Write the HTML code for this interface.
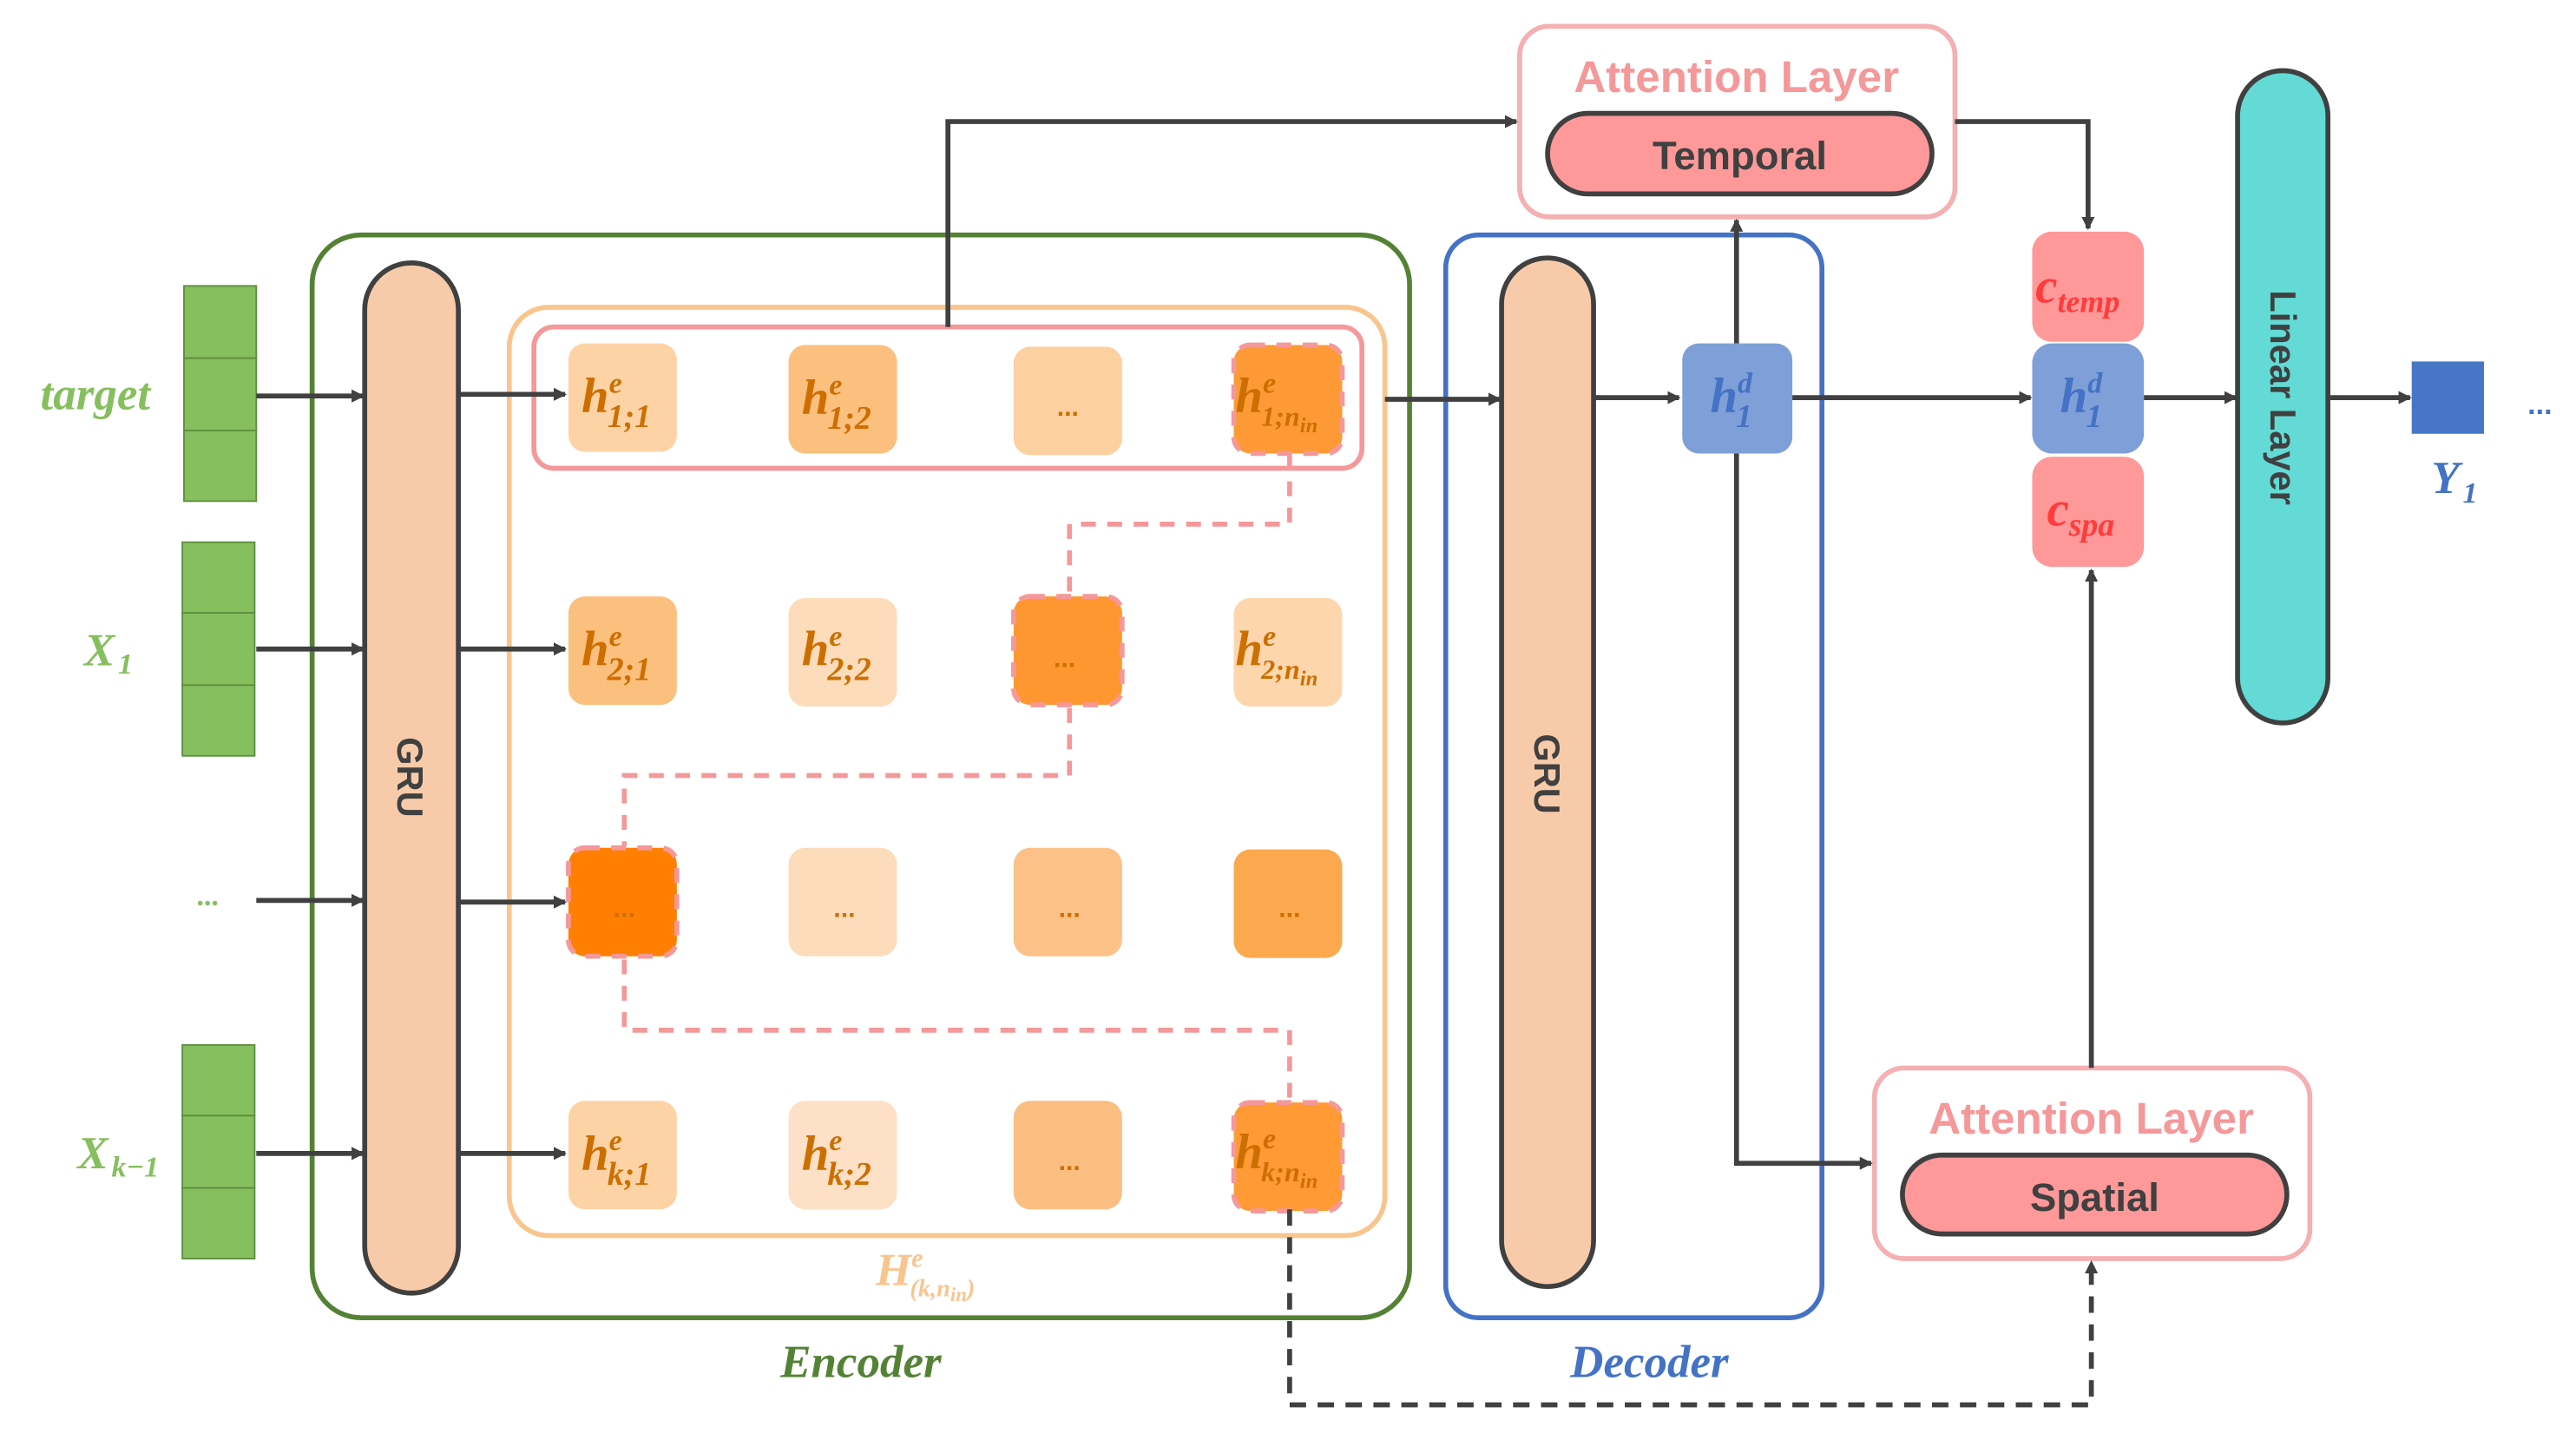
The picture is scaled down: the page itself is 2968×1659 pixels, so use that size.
<!DOCTYPE html>
<html><head><meta charset="utf-8"><style>
html,body{margin:0;padding:0;background:#fff}
svg{display:block}
.m{font-family:"Liberation Serif",serif;font-style:italic;font-weight:bold}
.s{font-family:"Liberation Sans","DejaVu Sans",sans-serif;font-weight:bold}
</style></head><body>
<svg width="2968" height="1659" viewBox="0 0 1568 876.4" preserveAspectRatio="none" xmlns="http://www.w3.org/2000/svg">
<defs>
<marker id="a" markerWidth="8" markerHeight="8" refX="7" refY="4" orient="auto" markerUnits="userSpaceOnUse"><path d="M0,0 L8,4 L0,8 z" fill="#404040"/></marker>
</defs>
<g fill="#86bf5e" stroke="#5e8f3e" stroke-width="1">
<rect x="112" y="174" width="44" height="44"/><rect x="112" y="218" width="44" height="44"/><rect x="112" y="262" width="44" height="43"/>
<rect x="111" y="330" width="44" height="43"/><rect x="111" y="373" width="44" height="44"/><rect x="111" y="417" width="44" height="43"/>
<rect x="111" y="636" width="44" height="43"/><rect x="111" y="679" width="44" height="44"/><rect x="111" y="723" width="44" height="43"/>
</g>
<g class="m" fill="#86bf5e" font-size="28" text-anchor="middle">
<text x="58" y="249">target</text>
<text x="66" y="405">X<tspan font-size="18" dx="2" dy="5">1</tspan></text>
<text x="72" y="711">X<tspan font-size="18" dx="2" dy="5">k−1</tspan></text>
<text x="127" y="551" font-size="18">...</text>
</g>
<!-- encoder -->
<rect x="190" y="143" width="668" height="659" rx="30" fill="none" stroke="#548235" stroke-width="3"/>
<rect x="222" y="160" width="57" height="627" rx="28.5" fill="#f7cbaa" stroke="#404040" stroke-width="3"/>
<text class="s" x="0" y="0" font-size="22" fill="#404040" text-anchor="middle" transform="translate(242,473) rotate(90)">GRU</text>
<rect x="310" y="187" width="533" height="565" rx="24" fill="none" stroke="#f9c58f" stroke-width="3"/>
<rect x="325" y="199" width="504" height="86" rx="12" fill="none" stroke="#f4989a" stroke-width="3"/>
<g>
<rect x="346" y="209" width="66" height="66" rx="10" fill="#fdd3a6"/>
<rect x="480" y="210" width="66" height="66" rx="10" fill="#fbbf7e"/>
<rect x="617" y="211" width="66" height="66" rx="10" fill="#fdd0a0"/>
<rect x="751" y="210" width="66" height="66" rx="10" fill="#fd9a35" stroke="#f4989a" stroke-width="3" stroke-dasharray="9 7"/>
<rect x="346" y="363" width="66" height="66" rx="10" fill="#fbbf7e"/>
<rect x="480" y="364" width="66" height="66" rx="10" fill="#fddcbb"/>
<rect x="617" y="363" width="66" height="66" rx="10" fill="#ff9730" stroke="#f4989a" stroke-width="3" stroke-dasharray="9 7"/>
<rect x="751" y="364" width="66" height="66" rx="10" fill="#fdd6ad"/>
<rect x="346" y="516" width="66" height="66" rx="10" fill="#ff8000" stroke="#f4989a" stroke-width="3" stroke-dasharray="9 7"/>
<rect x="480" y="516" width="66" height="66" rx="10" fill="#fddcbb"/>
<rect x="617" y="516" width="66" height="66" rx="10" fill="#fbc187"/>
<rect x="751" y="517" width="66" height="66" rx="10" fill="#fba84e"/>
<rect x="346" y="670" width="66" height="66" rx="10" fill="#fdd3a6"/>
<rect x="480" y="670" width="66" height="66" rx="10" fill="#fde0c6"/>
<rect x="617" y="670" width="66" height="66" rx="10" fill="#fbbe82"/>
<rect x="751" y="671" width="66" height="66" rx="10" fill="#ff9a35" stroke="#f4989a" stroke-width="3" stroke-dasharray="9 7"/>
</g>
<g class="m" fill="#cc6f00" font-size="30">
<text x="354" y="251">h<tspan font-size="18" dx="0" dy="-12">e</tspan><tspan font-size="20" dx="-9" dy="21">1;1</tspan></text>
<text x="488" y="252">h<tspan font-size="18" dx="0" dy="-12">e</tspan><tspan font-size="20" dx="-9" dy="21">1;2</tspan></text>
<text x="752" y="251">h<tspan font-size="18" dx="0" dy="-12">e</tspan><tspan font-size="17" dx="-9" dy="20">1;n<tspan font-size="13" dy="4">in</tspan></tspan></text>
<text x="354" y="405">h<tspan font-size="18" dx="0" dy="-12">e</tspan><tspan font-size="20" dx="-9" dy="21">2;1</tspan></text>
<text x="488" y="405">h<tspan font-size="18" dx="0" dy="-12">e</tspan><tspan font-size="20" dx="-9" dy="21">2;2</tspan></text>
<text x="752" y="405">h<tspan font-size="18" dx="0" dy="-12">e</tspan><tspan font-size="17" dx="-9" dy="20">2;n<tspan font-size="13" dy="4">in</tspan></tspan></text>
<text x="354" y="712">h<tspan font-size="18" dx="0" dy="-12">e</tspan><tspan font-size="20" dx="-9" dy="21">k;1</tspan></text>
<text x="488" y="712">h<tspan font-size="18" dx="0" dy="-12">e</tspan><tspan font-size="20" dx="-9" dy="21">k;2</tspan></text>
<text x="752" y="711">h<tspan font-size="18" dx="0" dy="-12">e</tspan><tspan font-size="17" dx="-9" dy="20">k;n<tspan font-size="13" dy="4">in</tspan></tspan></text>
</g>
<g font-family="Liberation Sans,sans-serif" font-weight="bold" font-size="16" fill="#cc6f00" text-anchor="middle">
<text x="650" y="253">...</text><text x="648" y="406">...</text>
<text x="380" y="558">...</text><text x="514" y="558">...</text><text x="651" y="558">...</text><text x="785" y="558">...</text>
<text x="651" y="712">...</text>
</g>
<text class="m" x="533" y="782" font-size="28" fill="#f9c58f">H<tspan font-size="16" dx="0" dy="-11">e</tspan><tspan font-size="15" dx="-8" dy="18">(k,n<tspan font-size="12" dy="3">in</tspan><tspan dy="-3">)</tspan></tspan></text>
<text class="m" x="524" y="838" font-size="28" fill="#548235" text-anchor="middle">Encoder</text>
<path d="M785,277 V319 H651 V362 M651,431 V472 H380 V515 M380,584 V627 H785 V669" fill="none" stroke="#f4989a" stroke-width="3" stroke-dasharray="9 7"/>
<!-- decoder -->
<rect x="880" y="143" width="229" height="659" rx="20" fill="none" stroke="#4472c4" stroke-width="3"/>
<rect x="914" y="157" width="56" height="626" rx="28" fill="#f7cbaa" stroke="#404040" stroke-width="3"/>
<text class="s" x="0" y="0" font-size="22" fill="#404040" text-anchor="middle" transform="translate(934,471) rotate(90)">GRU</text>
<text class="m" x="1004" y="838" font-size="28" fill="#4472c4" text-anchor="middle">Decoder</text>
<rect x="1024" y="209" width="67" height="67" rx="10" fill="#7f9fd8"/>
<text class="m" x="1041" y="251" font-size="30" fill="#4472c4">h<tspan font-size="18" dx="0" dy="-12">d</tspan><tspan font-size="20" dx="-10" dy="21">1</tspan></text>
<rect x="925" y="16" width="265" height="116" rx="18" fill="#fff" stroke="#f4b0b2" stroke-width="3"/>
<text class="s" x="1057" y="56" font-size="27" fill="#f4989a" text-anchor="middle">Attention Layer</text>
<rect x="942" y="69" width="234" height="49" rx="24.5" fill="#fe9899" stroke="#404040" stroke-width="3"/>
<text class="s" x="1059" y="103" font-size="24" fill="#404040" text-anchor="middle">Temporal</text>
<rect x="1141" y="650" width="265" height="116" rx="18" fill="#fff" stroke="#f4b0b2" stroke-width="3"/>
<text class="s" x="1273" y="690" font-size="27" fill="#f4989a" text-anchor="middle">Attention Layer</text>
<rect x="1158" y="703" width="234" height="48" rx="24" fill="#fe9899" stroke="#404040" stroke-width="3"/>
<text class="s" x="1275" y="737" font-size="24" fill="#404040" text-anchor="middle">Spatial</text>
<rect x="1237" y="141" width="68" height="67" rx="12" fill="#fe9899"/>
<rect x="1237" y="209" width="68" height="67" rx="12" fill="#7f9fd8"/>
<rect x="1237" y="278" width="68" height="67" rx="12" fill="#fe9899"/>
<text class="m" x="1239" y="184" font-size="30" fill="#ff3b3b">c<tspan font-size="19" dy="6">temp</tspan></text>
<text class="m" x="1254" y="251" font-size="30" fill="#4472c4">h<tspan font-size="18" dx="0" dy="-12">d</tspan><tspan font-size="20" dx="-10" dy="21">1</tspan></text>
<text class="m" x="1246" y="320" font-size="30" fill="#ff3b3b">c<tspan font-size="20" dy="6">spa</tspan></text>
<rect x="1362" y="43" width="55" height="397" rx="27.5" fill="#63dad6" stroke="#404040" stroke-width="3"/>
<text class="s" x="0" y="0" font-size="22" fill="#404040" text-anchor="middle" transform="translate(1382,242) rotate(90)">Linear Layer</text>
<rect x="1468" y="220" width="44" height="44" fill="#4776c6"/>
<text class="m" x="1494" y="300" font-size="28" fill="#4472c4" text-anchor="middle">Y<tspan font-size="18" dx="2" dy="6">1</tspan></text>
<text x="1546" y="252" font-size="18" font-weight="bold" fill="#4472c4" font-family="Liberation Sans,sans-serif" text-anchor="middle">...</text>
<g fill="none" stroke="#404040" stroke-width="3" marker-end="url(#a)">
<path d="M156,241 H221"/><path d="M156,395 H221"/><path d="M156,548 H221"/><path d="M156,702 H221"/>
<path d="M279,240 H344"/><path d="M279,395 H344"/><path d="M279,549 H344"/><path d="M279,702 H344"/>
<path d="M843,243 H913"/><path d="M970,242 H1022"/><path d="M1091,242 H1236"/>
<path d="M1305,242 H1361"/><path d="M1417,242 H1467"/>
<path d="M577,199 V74 H923"/>
<path d="M1190,74 H1271 V139"/>
<path d="M1057,209 V134"/>
<path d="M1057,276 V708 H1139"/>
<path d="M1273,650 V347"/>
<path d="M785,736 V855 H1273 V768" stroke-dasharray="10 7"/>
</g>
</svg>
</body></html>
